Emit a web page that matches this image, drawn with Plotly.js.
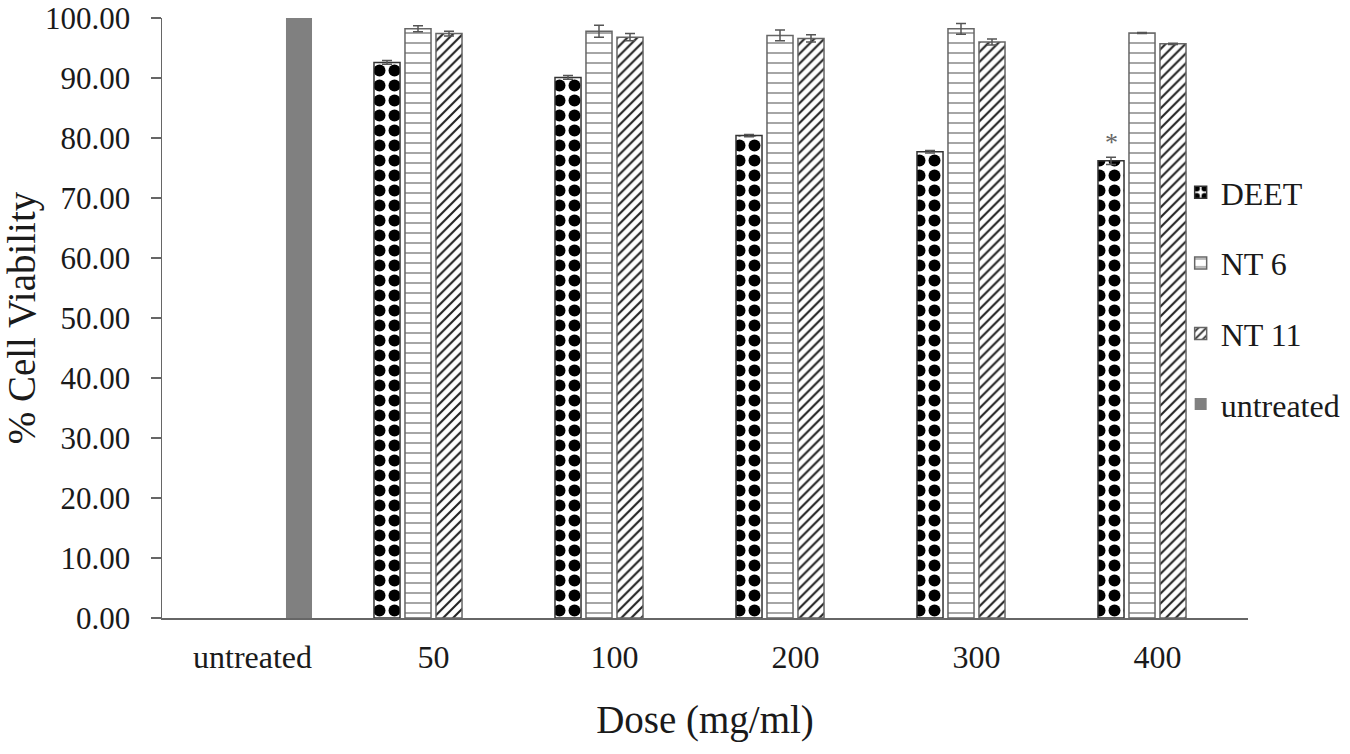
<!DOCTYPE html>
<html>
<head>
<meta charset="utf-8">
<script src="https://cdn.plot.ly/plotly-3.0.1.min.js"></script>
<style>
html,body{margin:0;padding:0;background:#fff;}
#chart{width:1350px;height:754px;}
</style>
</head>
<body>
<div id="chart"></div>
<script>
// ---- data ----
const categories = ["untreated", "50", "100", "200", "300", "400"];
const doses = ["50", "100", "200", "300", "400"];
const deetValues = [92.6, 90.1, 80.4, 77.7, 76.2];
const deetErrors = [0.3, 0.3, 0.2, 0.2, 0.6];
const nt6Values = [98.2, 97.8, 97.1, 98.2, 97.5];
const nt6Errors = [0.5, 1.0, 0.9, 0.9, 0.1];
const nt11Values = [97.4, 96.8, 96.6, 96.0, 95.7];
const nt11Errors = [0.4, 0.6, 0.6, 0.5, 0.1];
const untreatedX = ["untreated"];
const untreatedValues = [100.0];
const seriesNames = ["DEET", "NT 6", "NT 11", "untreated"];
const significance = [{x: "400", y: 79.3, text: "*"}];
const yTicks = [0,10,20,30,40,50,60,70,80,90,100];

const serif = "Liberation Serif, Times New Roman, serif";
const errStyle = {type: "data", visible: true, color: "#555", thickness: 1.5, width: 5};

const traces = [
  {
    type: "bar", name: seriesNames[0], x: doses, y: deetValues, legendgroup: "g1",
    error_y: Object.assign({array: deetErrors}, errStyle),
    marker: {color: "#ffffff", line: {color: "#333", width: 1.5},
      pattern: {shape: ".", fgcolor: "#000", bgcolor: "#fff", size: 15, solidity: 0.5, fillmode: "replace"}}
  },
  {
    type: "bar", name: seriesNames[1], x: doses, y: nt6Values, legendgroup: "g2",
    error_y: Object.assign({array: nt6Errors}, errStyle),
    marker: {color: "#ffffff", line: {color: "#666", width: 1.5},
      pattern: {shape: "-", fgcolor: "#888", bgcolor: "#fff", size: 10, solidity: 0.15, fillmode: "replace"}}
  },
  {
    type: "bar", name: seriesNames[2], x: doses, y: nt11Values, legendgroup: "g3",
    error_y: Object.assign({array: nt11Errors}, errStyle),
    marker: {color: "#ffffff", line: {color: "#666", width: 1.5},
      pattern: {shape: "/", fgcolor: "#222", bgcolor: "#fff", size: 7, solidity: 0.3, fillmode: "replace"}}
  },
  {
    type: "bar", name: seriesNames[3], x: untreatedX, y: untreatedValues, legendgroup: "g4",
    marker: {color: "#808080", line: {color: "#808080", width: 0}}
  }
];

const layout = {
  width: 1350, height: 754,
  paper_bgcolor: "#fff", plot_bgcolor: "#fff",
  margin: {l: 162, r: 102, t: 18, b: 136, autoexpand: false},
  barmode: "group", bargap: 0.315, bargroupgap: 0.16,
  font: {family: serif, color: "#1a1a1a"},
  xaxis: {
    type: "category", categoryorder: "array", categoryarray: categories,
    range: [-0.5, categories.length - 0.5], autorange: false,
    showline: true, linecolor: "#666", linewidth: 1.5,
    ticks: "", showgrid: false, zeroline: false,
    tickfont: {family: serif, size: 32, color: "#1a1a1a"},
    ticklabelstandoff: 10,
    title: {text: "Dose (mg/ml)", font: {family: serif, size: 39, color: "#1a1a1a"}, standoff: 32}
  },
  yaxis: {
    range: [0, 100], autorange: false, tickvals: yTicks, tickformat: ".2f",
    showline: true, linecolor: "#666", linewidth: 1.5,
    ticks: "outside", ticklen: 10, tickwidth: 1.5, tickcolor: "#666",
    showgrid: false, zeroline: false,
    tickfont: {family: serif, size: 31, color: "#1a1a1a"},
    ticklabelstandoff: 14,
    title: {text: "% Cell Viability", font: {family: serif, size: 39, color: "#1a1a1a"}, standoff: 4}
  },
  legend: {
    x: 0.938, xanchor: "left", y: 0.755, yanchor: "top",
    font: {family: serif, size: 32, color: "#1a1a1a"},
    bgcolor: "rgba(0,0,0,0)", tracegroupgap: 26, itemwidth: 30
  },
  annotations: significance.map(s => ({
    x: categories.indexOf(s.x), y: s.y, xref: "x", yref: "y", text: s.text, showarrow: false,
    xshift: -46, font: {family: serif, size: 26, color: "#666"}
  })),
  showlegend: true
};

Plotly.newPlot("chart", traces, layout, {displayModeBar: false, staticPlot: true});
</script>
</body>
</html>
